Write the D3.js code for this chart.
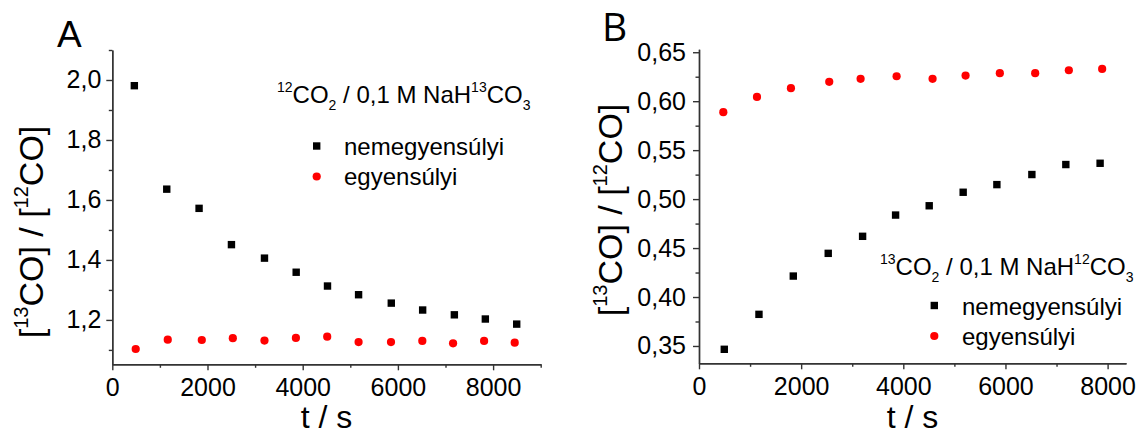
<!DOCTYPE html>
<html>
<head>
<meta charset="utf-8">
<script src="https://cdn.jsdelivr.net/npm/d3@7"></script>
<style>
  body { margin: 0; background: #fff; }
  text { font-family: "Liberation Sans", Arial, sans-serif; }
</style>
</head>
<body>
<svg id="chart"></svg>
<script>
// panel A : 12CO2 / 0,1 M NaH13CO3
const timeA_nem = [463, 1144, 1823, 2503, 3197, 3863, 4521, 5174, 5861, 6520, 7186, 7837, 8496];
const ratioA_nem = [1.981, 1.636, 1.572, 1.451, 1.406, 1.359, 1.313, 1.284, 1.256, 1.233, 1.217, 1.203, 1.186];
const timeA_egy = [492, 1165, 1880, 2532, 3197, 3857, 4515, 5174, 5855, 6513, 7159, 7811, 8454];
const ratioA_egy = [1.103, 1.134, 1.133, 1.139, 1.131, 1.140, 1.144, 1.126, 1.126, 1.130, 1.122, 1.130, 1.124];

// panel B : 13CO2 / 0,1 M NaH12CO3
const timeB_nem = [495, 1174, 1846, 2530, 3203, 3849, 4507, 5172, 5832, 6517, 7182, 7853];
const ratioB_nem = [0.3466, 0.3823, 0.4214, 0.4446, 0.462, 0.4837, 0.4932, 0.507, 0.5148, 0.5251, 0.5353, 0.5366];
const timeB_egy = [476, 1135, 1800, 2550, 3164, 3869, 4573, 5219, 5890, 6582, 7241, 7893];
const ratioB_egy = [0.5888, 0.6044, 0.6133, 0.6198, 0.6228, 0.6255, 0.6228, 0.6262, 0.6286, 0.6286, 0.6316, 0.633];

const xTicks = [0, 2000, 4000, 6000, 8000];
const xMinorA = [1000, 3000, 5000, 7000, 9000];
const xMinorB = [1000, 3000, 5000, 7000];
const yTicksA = [1.2, 1.4, 1.6, 1.8, 2.0];
const yMinorA = [1.1, 1.3, 1.5, 1.7, 1.9, 2.1];
const yTicksB = [0.35, 0.40, 0.45, 0.50, 0.55, 0.60, 0.65];
const yMinorB = [0.375, 0.425, 0.475, 0.525, 0.575, 0.625];

const seriesNames = ["nemegyensúlyi", "egyensúlyi"];

const width = 1140;
const height = 436;
const svg = d3.select("#chart")
  .attr("width", width)
  .attr("height", height);

const axisColor = "#333";

// text with super/subscript parts
function richText(sel, parts, size, supSize, up, down) {
  let shift = 0;
  parts.forEach(p => {
    let target = 0;
    if (p.s === "sup") target = -up;
    if (p.s === "sub") target = down;
    sel.append("tspan")
      .attr("dy", target - shift)
      .style("font-size", (p.s ? supSize : size) + "px")
      .text(p.t);
    shift = target;
  });
}

function drawPanel(p) {
  const x = d3.scaleLinear().domain(p.xDomain).range(p.xRange);
  const y = d3.scaleLinear().domain(p.yDomain).range(p.yRange);
  const g = svg.append("g");

  // minor ticks
  g.append("g")
    .attr("transform", `translate(0,${p.yRange[0]})`)
    .call(d3.axisBottom(x).tickValues(p.xMinor).tickSize(3.5).tickSizeOuter(0).tickFormat(""));
  g.append("g")
    .attr("transform", `translate(${p.xRange[0]},0)`)
    .call(d3.axisLeft(y).tickValues(p.yMinor).tickSize(3.5).tickSizeOuter(0).tickFormat(""));

  // major ticks
  g.append("g")
    .attr("transform", `translate(0,${p.yRange[0]})`)
    .call(d3.axisBottom(x).tickValues(xTicks).tickSize(6).tickSizeOuter(0).tickPadding(8)
      .tickFormat(d3.format("d")));
  g.append("g")
    .attr("transform", `translate(${p.xRange[0]},0)`)
    .call(d3.axisLeft(y).tickValues(p.yTicks).tickSize(6).tickSizeOuter(0).tickPadding(p.yPad)
      .tickFormat(d => d3.format(p.yFmt)(d).replace(".", ",")));

  g.selectAll(".domain, .tick line").attr("stroke", axisColor).attr("stroke-width", 1.4);
  g.selectAll(".tick text")
    .style("font-family", '"Liberation Sans", Arial, sans-serif')
    .style("font-size", "25px")
    .attr("fill", "#000");

  // points
  const nem = p.tNem.map((t, i) => ({t: t, v: p.vNem[i]}));
  const egy = p.tEgy.map((t, i) => ({t: t, v: p.vEgy[i]}));
  g.selectAll(".egy").data(egy).enter().append("circle")
    .attr("cx", d => x(d.t))
    .attr("cy", d => y(d.v))
    .attr("r", 4.1)
    .style("fill", "#ff0000");
  g.selectAll(".nem").data(nem).enter().append("rect")
    .attr("x", d => x(d.t) - 3.7)
    .attr("y", d => y(d.v) - 3.7)
    .attr("width", 7.4)
    .attr("height", 7.4)
    .style("fill", "#000");

  // axis titles
  g.append("text")
    .attr("x", (p.xRange[0] + p.xRange[1]) / 2)
    .attr("y", 428)
    .attr("text-anchor", "middle")
    .style("font-size", "32px")
    .text("t / s");

  const yt = g.append("text")
    .attr("text-anchor", "middle")
    .attr("transform", `translate(${p.yTitleX},${p.yTitleY}) rotate(-90)`);
  richText(yt, [
    {t: "["}, {t: "13", s: "sup"}, {t: "CO] / ["}, {t: "12", s: "sup"}, {t: "CO]"}
  ], 34, 20, 15, 0);

  // panel letter
  g.append("text")
    .attr("x", p.letterX)
    .attr("y", p.letterY)
    .style("font-size", p.letterSize + "px")
    .style("font-family", p.letterFont)
    .text(p.letter);

  // legend
  const lt = g.append("text")
    .attr("x", p.legX)
    .attr("y", p.legY);
  richText(lt, p.legTitle, 24, 14, 11, 7);

  const items = g.append("g");
  items.append("rect")
    .attr("x", p.legMarkX - 3.7)
    .attr("y", p.legY + p.legDy1 - 3.7)
    .attr("width", 7.4).attr("height", 7.4)
    .style("fill", "#000");
  items.append("circle")
    .attr("cx", p.legMarkX)
    .attr("cy", p.legY + p.legDy1 + 30.5)
    .attr("r", 4.1)
    .style("fill", "#ff0000");
  items.selectAll("text").data(seriesNames).enter().append("text")
    .attr("x", p.legTextX)
    .attr("y", (d, i) => p.legY + p.legDy1 + 9 + i * 30)
    .style("font-size", "24px")
    .text(d => d);
}

drawPanel({
  xDomain: [0, 9000], xRange: [112.3, 540.7],
  yDomain: [1.052, 2.1], yRange: [364.3, 50],
  xMinor: xMinorA, yTicks: yTicksA, yMinor: yMinorA, yFmt: ".1f", yPad: 5,
  tNem: timeA_nem, vNem: ratioA_nem, tEgy: timeA_egy, vEgy: ratioA_egy,
  yTitleX: 43, yTitleY: 232,
  letter: "A", letterX: 57, letterY: 47, letterSize: 37, letterFont: '"Liberation Sans", Arial, sans-serif',
  legX: 277, legY: 103,
  legTitle: [{t: "12", s: "sup"}, {t: "CO"}, {t: "2", s: "sub"}, {t: " / 0,1 M NaH"}, {t: "13", s: "sup"}, {t: "CO"}, {t: "3", s: "sub"}],
  legDy1: 43, legMarkX: 316.7, legTextX: 344
});

drawPanel({
  xDomain: [0, 8360], xRange: [699, 1126],
  yDomain: [0.3323, 0.653], yRange: [363.3, 49.3],
  xMinor: xMinorB, yTicks: yTicksB, yMinor: yMinorB, yFmt: ".2f", yPad: 7,
  tNem: timeB_nem, vNem: ratioB_nem, tEgy: timeB_egy, vEgy: ratioB_egy,
  yTitleX: 622, yTitleY: 210,
  letter: "B", letterX: 602, letterY: 41, letterSize: 39, letterFont: '"Open Sans", sans-serif',
  legX: 880, legY: 275,
  legTitle: [{t: "13", s: "sup"}, {t: "CO"}, {t: "2", s: "sub"}, {t: " / 0,1 M NaH"}, {t: "12", s: "sup"}, {t: "CO"}, {t: "3", s: "sub"}],
  legDy1: 30.5, legMarkX: 934.3, legTextX: 962
});
</script>
</body>
</html>
